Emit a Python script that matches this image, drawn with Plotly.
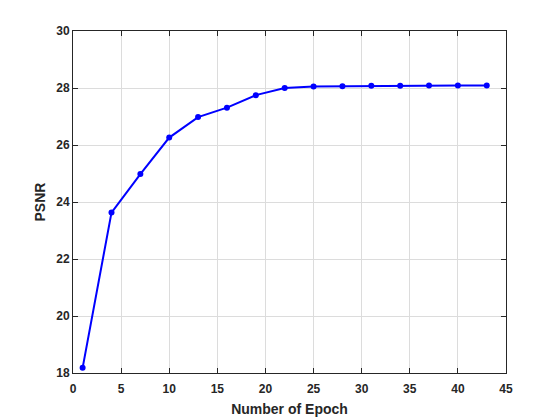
import plotly.graph_objects as go

epochs = [1, 4, 7, 10, 13, 16, 19, 22, 25, 28, 31, 34, 37, 40, 43]
psnr = [18.18, 23.63, 24.98, 26.26, 26.98, 27.31, 27.75, 28.0, 28.05, 28.06,
        28.08, 28.08, 28.09, 28.09, 28.09]

fig = go.Figure()
fig.add_trace(go.Scatter(x=epochs, y=psnr, mode="lines+markers",
                         line=dict(color="#0000ff", width=2),
                         marker=dict(color="#0000ff", size=6)))

axis_style = dict(showline=True, linecolor="#262626", linewidth=1, mirror="ticks",
                  ticks="inside", ticklen=5, tickcolor="#262626",
                  showgrid=True, gridcolor="#dcdcdc", gridwidth=1, zeroline=False,
                  tickfont=dict(family="Liberation Sans, Arial", size=12, color="#262626"))

fig.update_xaxes(range=[0, 45], dtick=5, ticklabelstandoff=5,
                 title=dict(text="<b>Number of Epoch</b>", standoff=8,
                            font=dict(family="Liberation Sans, Arial", size=14, color="#262626")),
                 tickprefix="<b>", ticksuffix="</b>", **axis_style)
fig.update_yaxes(range=[18, 30], dtick=2,
                 title=dict(text="<b>PSNR</b>", standoff=7,
                            font=dict(family="Liberation Sans, Arial", size=14, color="#262626")),
                 tickprefix="<b>", ticksuffix="</b>", **axis_style)

# page has an 8px body offset, margins compensate for it
fig.update_layout(width=560, height=420, showlegend=False,
                  margin=dict(l=65, r=62, t=23, b=55),
                  plot_bgcolor="white", paper_bgcolor="white")

fig.write_html("out.html")
